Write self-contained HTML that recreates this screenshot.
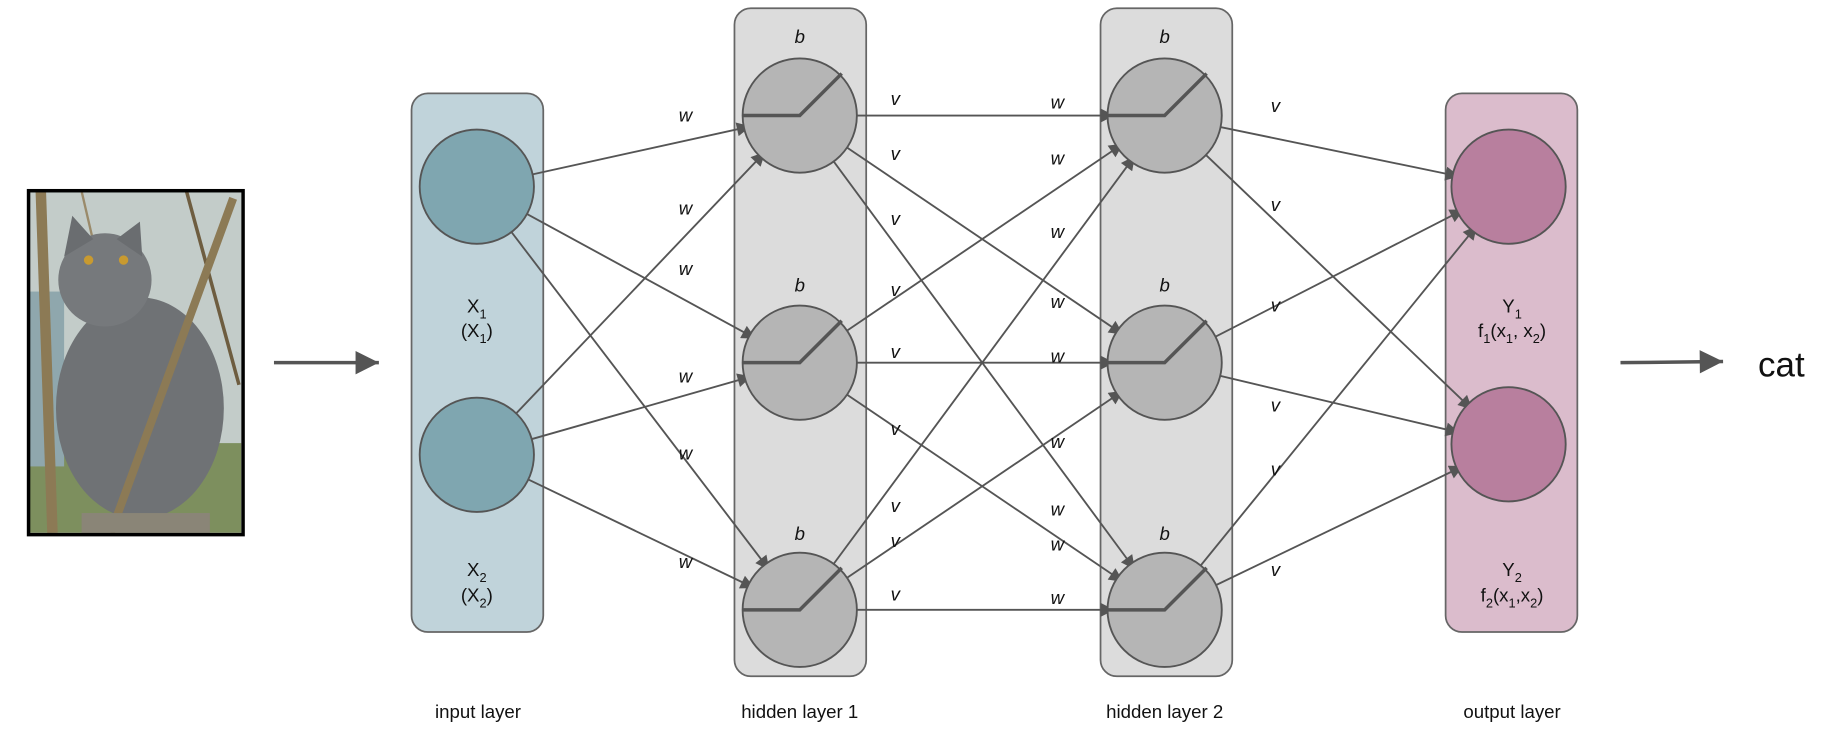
<!DOCTYPE html>
<html><head><meta charset="utf-8"><style>
html,body{margin:0;padding:0;background:#fff;}
svg{display:block;}
text{font-family:"Liberation Sans",sans-serif;fill:#111;}
.it{font-style:italic;font-size:16px;}
</style></head><body>
<svg id="s" width="1828" height="744" viewBox="0 0 1568 638" xmlns="http://www.w3.org/2000/svg">
<defs>
<marker id="a" viewBox="0 0 10 10" refX="10" refY="5" markerWidth="14" markerHeight="12" markerUnits="userSpaceOnUse" orient="auto"><path d="M0,0 L10,5 L0,10 z" fill="#555"/></marker>
<marker id="b" viewBox="0 0 10 10" refX="10" refY="5" markerWidth="22" markerHeight="20" markerUnits="userSpaceOnUse" orient="auto"><path d="M0,0 L10,5 L0,10 z" fill="#555"/></marker>
<clipPath id="cp"><rect x="25" y="164" width="182" height="293"/></clipPath>
</defs>
<g clip-path="url(#cp)">
<rect x="25" y="164" width="182" height="293" fill="#c3ccc9"/>
<rect x="25" y="380" width="182" height="77" fill="#7d8f5e"/>
<rect x="25" y="250" width="30" height="150" fill="#8fa7ad"/>
<line x1="35" y1="164" x2="45" y2="457" stroke="#8c7a55" stroke-width="9"/>
<line x1="160" y1="164" x2="205" y2="330" stroke="#6e5d40" stroke-width="3"/>
<line x1="70" y1="164" x2="90" y2="250" stroke="#9a8a6a" stroke-width="2"/>
<ellipse cx="120" cy="350" rx="72" ry="95" fill="#6f7275"/>
<ellipse cx="90" cy="240" rx="40" ry="40" fill="#76797c"/>
<path d="M55,220 L62,185 L80,205 Z M100,205 L120,190 L122,220 Z" fill="#6a6d70"/>
<circle cx="76" cy="223" r="4" fill="#c89a30"/><circle cx="106" cy="223" r="4" fill="#c89a30"/>
<line x1="200" y1="170" x2="95" y2="457" stroke="#8c7a55" stroke-width="7"/>
<rect x="70" y="440" width="110" height="17" fill="#8a8577"/>
</g>
<rect x="24.5" y="163.5" width="184" height="295" fill="none" stroke="#000" stroke-width="3"/>
<line x1="235" y1="311" x2="325" y2="311" stroke="#555" stroke-width="3" marker-end="url(#b)"/>
<line x1="1390" y1="311" x2="1478" y2="310" stroke="#555" stroke-width="3" marker-end="url(#b)"/>
<rect x="353" y="80" width="113" height="462" rx="14" fill="#c0d3da" stroke="#666" stroke-width="1.5"/>
<rect x="630" y="7" width="113" height="573" rx="14" fill="#dcdcdc" stroke="#666" stroke-width="1.5"/>
<rect x="944" y="7" width="113" height="573" rx="14" fill="#dcdcdc" stroke="#666" stroke-width="1.5"/>
<rect x="1240" y="80" width="113" height="462" rx="14" fill="#dbbccc" stroke="#666" stroke-width="1.5"/>
<g id="edges" stroke="#555" stroke-width="1.6" fill="none"></g>
<g id="nodes" stroke="#555" stroke-width="1.6"></g>
<g font-size="16" text-anchor="middle">
<text x="409" y="268">X<tspan font-size="11" dy="5">1</tspan></text>
<text x="409" y="289">(X<tspan font-size="11" dy="5">1</tspan><tspan dy="-5">)</tspan></text>
<text x="409" y="494">X<tspan font-size="11" dy="5">2</tspan></text>
<text x="409" y="516">(X<tspan font-size="11" dy="5">2</tspan><tspan dy="-5">)</tspan></text>
<text x="1297" y="268">Y<tspan font-size="11" dy="5">1</tspan></text>
<text x="1297" y="289">f<tspan font-size="11" dy="5">1</tspan><tspan dy="-5">(x</tspan><tspan font-size="11" dy="5">1</tspan><tspan dy="-5">, x</tspan><tspan font-size="11" dy="5">2</tspan><tspan dy="-5">)</tspan></text>
<text x="1297" y="494">Y<tspan font-size="11" dy="5">2</tspan></text>
<text x="1297" y="516">f<tspan font-size="11" dy="5">2</tspan><tspan dy="-5">(x</tspan><tspan font-size="11" dy="5">1</tspan><tspan dy="-5">,x</tspan><tspan font-size="11" dy="5">2</tspan><tspan dy="-5">)</tspan></text>
<text x="410" y="616">input layer</text>
<text x="686" y="616">hidden layer 1</text>
<text x="999" y="616">hidden layer 2</text>
<text x="1297" y="616">output layer</text>
</g>
<text x="1508" y="323" font-size="30">cat</text>
<g class="it" text-anchor="middle">
<text x="686" y="37">b</text><text x="686" y="250">b</text><text x="686" y="463">b</text>
<text x="999" y="37">b</text><text x="999" y="250">b</text><text x="999" y="463">b</text>
<text x="588" y="104">w</text><text x="588" y="184">w</text><text x="588" y="236">w</text>
<text x="588" y="328">w</text><text x="588" y="394">w</text><text x="588" y="487">w</text>
<text x="768" y="90">v</text><text x="768" y="137">v</text><text x="768" y="193">v</text>
<text x="768" y="254">v</text><text x="768" y="307">v</text><text x="768" y="373">v</text>
<text x="768" y="439">v</text><text x="768" y="469">v</text><text x="768" y="515">v</text>
<text x="907" y="93">w</text><text x="907" y="141">w</text><text x="907" y="204">w</text>
<text x="907" y="264">w</text><text x="907" y="311">w</text><text x="907" y="384">w</text>
<text x="907" y="442">w</text><text x="907" y="472">w</text><text x="907" y="518">w</text>
<text x="1094" y="96">v</text><text x="1094" y="181">v</text><text x="1094" y="267">v</text>
<text x="1094" y="353">v</text><text x="1094" y="408">v</text><text x="1094" y="494">v</text>
</g>
</svg>
<script>
var NS="http://www.w3.org/2000/svg",R=49;
var L0=[[409,160],[409,390]],L1=[[686,99],[686,311],[686,523]],L2=[[999,99],[999,311],[999,523]],L3=[[1294,160],[1294,381]];
var E=document.getElementById("edges"),N=document.getElementById("nodes");
function el(t,a,p){var e=document.createElementNS(NS,t);for(var k in a)e.setAttribute(k,a[k]);p.appendChild(e);return e;}
function conn(A,B){A.forEach(function(s){B.forEach(function(t){var dx=t[0]-s[0],dy=t[1]-s[1],d=Math.hypot(dx,dy),ux=dx/d,uy=dy/d;
el("line",{x1:s[0]+ux*(R-12),y1:s[1]+uy*(R-12),x2:t[0]-ux*(R-6),y2:t[1]-uy*(R-6),"marker-end":"url(#a)"},E);});});}
conn(L0,L1);conn(L1,L2);conn(L2,L3);
L0.forEach(function(c){el("circle",{cx:c[0],cy:c[1],r:R,fill:"#7fa6b0"},N);});
L3.forEach(function(c){el("circle",{cx:c[0],cy:c[1],r:R,fill:"#b87f9e"},N);});
L1.concat(L2).forEach(function(c){el("circle",{cx:c[0],cy:c[1],r:R,fill:"#b5b5b5"},N);
el("polyline",{points:(c[0]-49)+","+c[1]+" "+c[0]+","+c[1]+" "+(c[0]+36)+","+(c[1]-36),fill:"none",stroke:"#555","stroke-width":3},N);});
</script>
</body></html>
